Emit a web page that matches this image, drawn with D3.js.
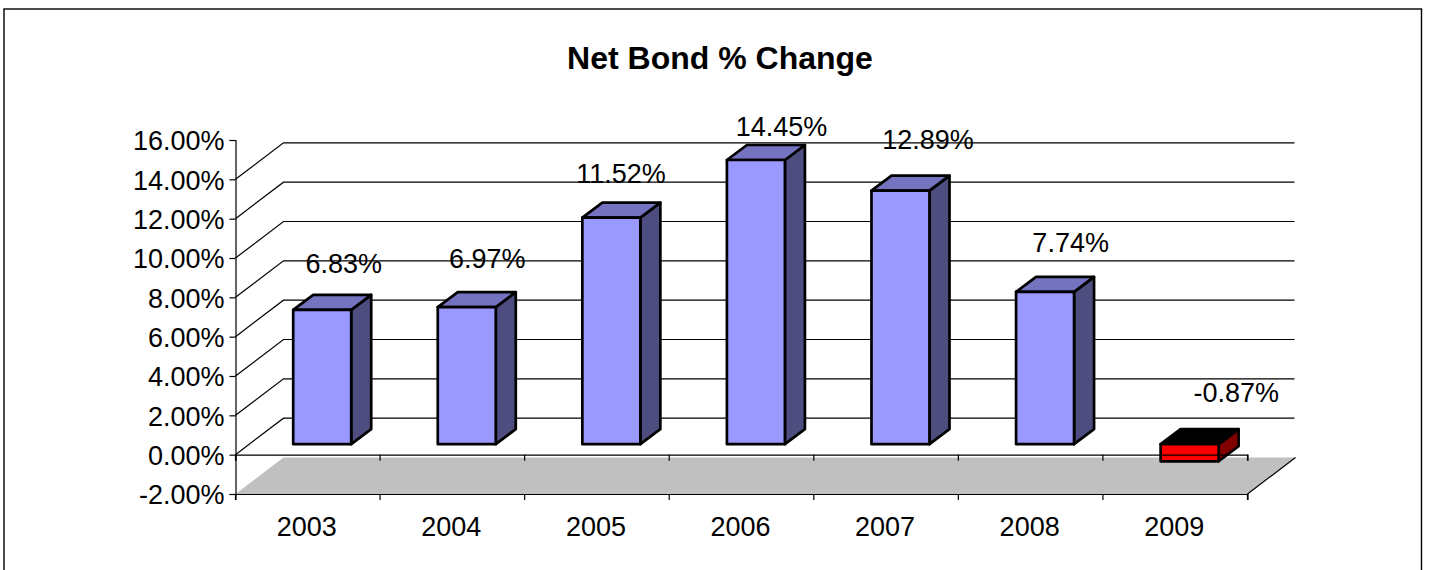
<!DOCTYPE html>
<html><head><meta charset="utf-8">
<script src="https://cdn.jsdelivr.net/npm/d3@7"></script>
<style>html,body{margin:0;padding:0;background:#fff;overflow:hidden}svg{display:block}text{font-family:"Liberation Sans",Arial,sans-serif;fill:#000}</style>
</head><body><div id="chart"></div>
<script>
const years = ["2003","2004","2005","2006","2007","2008","2009"];
const values = [6.83,6.97,11.52,14.45,12.89,7.74,-0.87];
const labels = ["6.83%","6.97%","11.52%","14.45%","12.89%","7.74%","-0.87%"];
const yTicks = [-2,0,2,4,6,8,10,12,14,16];
const tickLabels = ["-2.00%","0.00%","2.00%","4.00%","6.00%","8.00%","10.00%","12.00%","14.00%","16.00%"];
// hand-placed data label offsets, relative to category centre and bar top
const labelDx = [36,35,24,40,42,40,61];
const labelDy = [-47,-50,-45,-34,-52,-50,-53];
const W=1429,H=570;
const svg=d3.select("#chart").append("svg").attr("width",W).attr("height",H);
svg.append("rect").attr("x",4).attr("y",9).attr("width",1417.5).attr("height",570).attr("fill","#fff").attr("stroke","#000").attr("stroke-width",1.4);
svg.append("text").attr("x",720).attr("y",69).attr("text-anchor","middle").attr("font-size",32).attr("font-weight","bold").text("Net Bond % Change");
const x=d3.scaleBand().domain(years).range([235.5,1247.5]);
const y=d3.scaleLinear().domain([-2,16]).range([494,140]);
const dX=48,dY=-36.5;
const fy=y(-2);
svg.append("path").attr("fill","#c0c0c0")
 .attr("d",d3.line()([[x.range()[0],fy],[x.range()[0]+dX,fy+dY],[x.range()[1]+dX,fy+dY],[x.range()[1],fy]]));
yTicks.filter(v=>v>=0&&v<=14).forEach(v=>{
  const p=y(v);
  svg.append("path").attr("fill","none").attr("stroke","#000").attr("stroke-width",1.2)
   .attr("d",d3.line()([[x.range()[0],p],[x.range()[0]+dX,p+dY],[x.range()[1]+dX-1,p+dY]]));
});
svg.append("line").attr("x1",x.range()[1]).attr("y1",fy).attr("x2",x.range()[1]+dX).attr("y2",fy+dY).attr("stroke","#000").attr("stroke-width",1.2);
const bw=58,bdX=20,bdY=-15,boX=57.7,boY=-10.5;
const line=d3.line();
values.forEach((v,i)=>{
  const x0=x(years[i])+boX,x1=x0+bw;
  const yT=y(Math.max(v,0))+boY,yB=y(Math.min(v,0))+boY;
  const neg=v<0;
  const front=neg?"#ff0000":"#9999ff",top=neg?"#000000":"#7373bf",side=neg?"#800000":"#4d4d80";
  const g=svg.append("g").attr("stroke","#000").attr("stroke-width",2.7).attr("stroke-linejoin","round");
  g.append("path").attr("fill",side).attr("d",line([[x1,yT],[x1+bdX,yT+bdY],[x1+bdX,yB+bdY],[x1,yB]])+"Z");
  g.append("path").attr("fill",top).attr("d",line([[x0,yT],[x0+bdX,yT+bdY],[x1+bdX,yT+bdY],[x1,yT]])+"Z");
  g.append("path").attr("fill",front).attr("d",line([[x0,yT],[x1,yT],[x1,yB],[x0,yB]])+"Z");
});
const yAxis=d3.axisLeft(y).tickValues(yTicks).tickSize(6).tickPadding(5).tickFormat((d,i)=>tickLabels[i]);
const ga=svg.append("g").attr("transform","translate(235.5,0)").call(yAxis);
ga.selectAll("text").attr("font-size",27).attr("dy","0.36em").style("font-family",'"Liberation Sans",Arial,sans-serif');
ga.selectAll("line,path").attr("stroke","#000").attr("stroke-width",1.2);
[0,-2].forEach((v,k)=>{
  const gx=svg.append("g").attr("transform",`translate(0,${y(v)})`);
  gx.call(d3.axisBottom(x).tickSizeInner(0).tickSizeOuter(6).tickFormat(k?null:""));
  gx.select(".domain").attr("stroke","#000").attr("stroke-width",1.2);
  gx.selectAll(".tick line").remove();
  gx.selectAll(".tick text").attr("font-size",27).attr("dy","0").attr("y",42).attr("dx",-1).style("font-family",'"Liberation Sans",Arial,sans-serif');
  const bounds=[...years.map(d=>x(d)),x.range()[1]];
  gx.selectAll("line.b").data(bounds).join("line").attr("class","b").attr("x1",d=>d).attr("x2",d=>d).attr("y1",0).attr("y2",6).attr("stroke","#000").attr("stroke-width",1.2);
});
svg.selectAll("text.dl").data(labels).join("text").attr("class","dl").attr("text-anchor","middle").attr("font-size",27)
 .attr("x",(d,i)=>x(years[i])+x.bandwidth()/2+labelDx[i])
 .attr("y",(d,i)=>y(Math.max(values[i],0))+labelDy[i]).text(d=>d);
</script></body></html>
